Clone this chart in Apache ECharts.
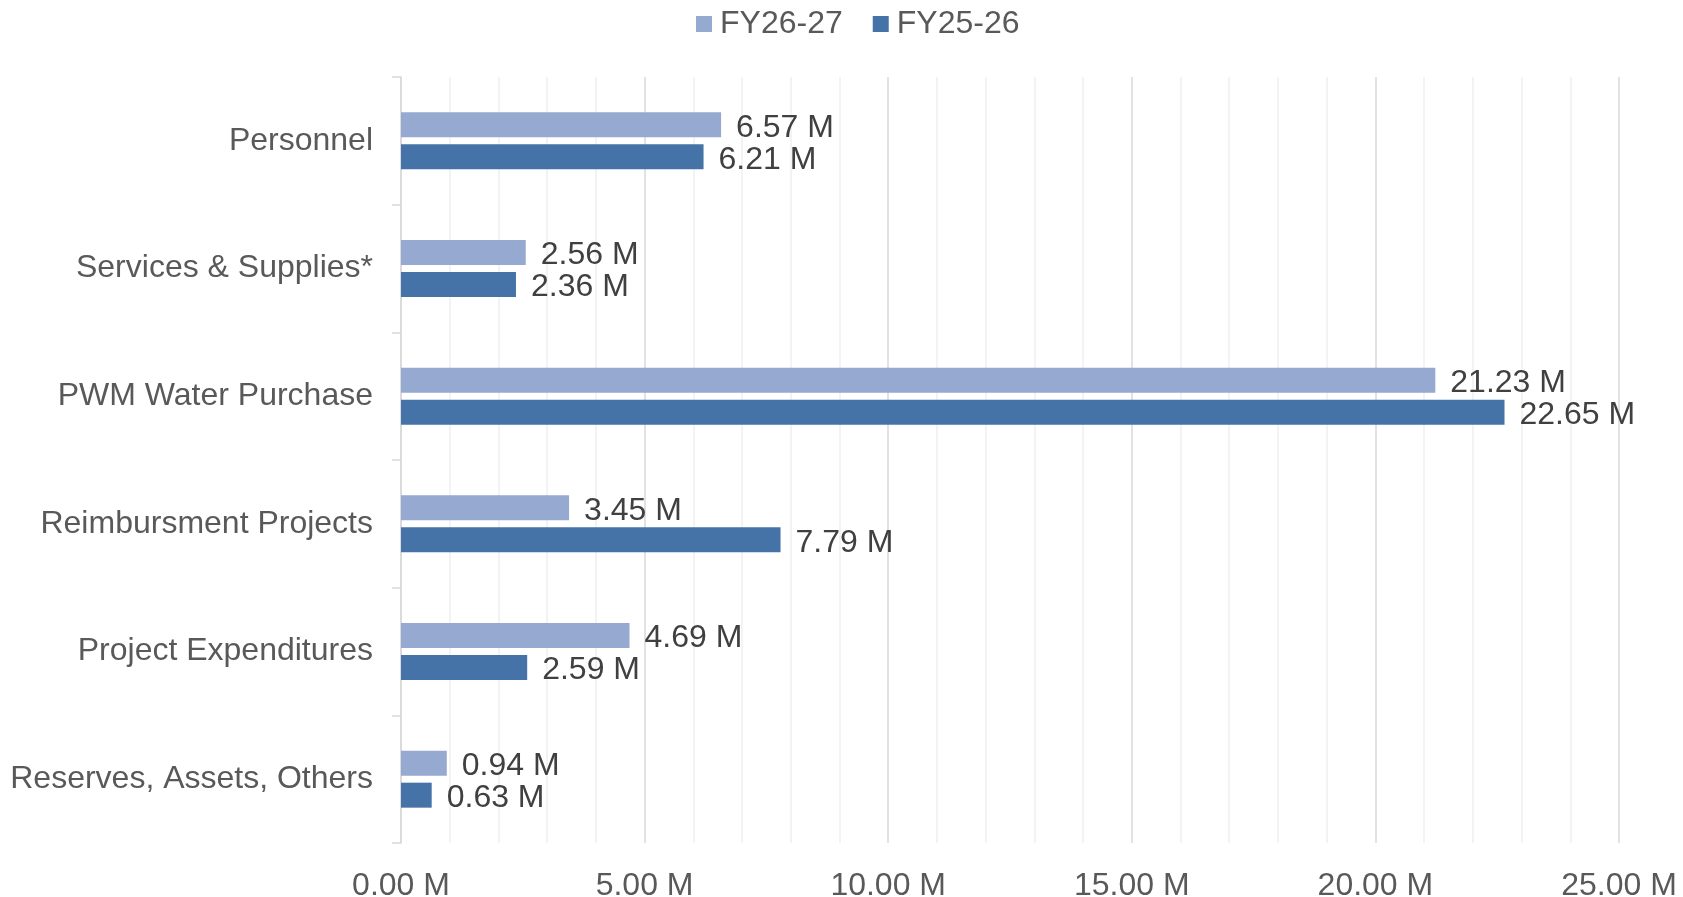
<!DOCTYPE html>
<html>
<head>
<meta charset="utf-8">
<script src="https://cdn.jsdelivr.net/npm/echarts@6/dist/echarts.min.js"></script>
<style>html,body{margin:0;padding:0;background:#fff;}#c{width:1683px;height:897px;}</style>
</head>
<body>
<div id="c"></div>
<script>
const categories = ['Personnel', 'Services & Supplies*', 'PWM Water Purchase', 'Reimbursment Projects', 'Project Expenditures', 'Reserves, Assets, Others'];
const seriesNames = ['FY26-27', 'FY25-26'];
const fy2627 = [6.57, 2.56, 21.23, 3.45, 4.69, 0.94];
const fy2526 = [6.21, 2.36, 22.65, 7.79, 2.59, 0.63];
const axisMin = 0, axisMax = 25, axisInterval = 5;

const FONT = '"Liberation Sans", Arial, sans-serif';
const chart = echarts.init(document.getElementById('c'));
const fmt = v => v.toFixed(2) + ' M';
const labelCfg = {
  show: true, position: 'right', distance: 15, offset: [0, 3],
  formatter: p => fmt(p.value),
  color: '#404040', fontSize: 32, fontFamily: FONT
};
chart.setOption({
  animation: false,
  backgroundColor: '#ffffff',
  legend: {
    data: seriesNames,
    left: 691, top: 3,
    itemWidth: 16, itemHeight: 16, itemGap: 30,
    icon: 'rect',
    textStyle: { color: '#595959', fontSize: 32, fontFamily: FONT, padding: [0, 0, 0, 3] }
  },
  grid: { left: 401, right: 64, top: 77, bottom: 54, containLabel: false, outerBoundsMode: 'none' },
  xAxis: {
    type: 'value', min: axisMin, max: axisMax, interval: axisInterval,
    axisLine: { show: false }, axisTick: { show: false },
    axisLabel: { formatter: v => fmt(v), color: '#595959', fontSize: 32, fontFamily: FONT, margin: 27 },
    splitLine: { show: true, lineStyle: { color: '#d9d9d9', width: 1.5 } },
    minorTick: { show: false, splitNumber: 5 },
    minorSplitLine: { show: true, lineStyle: { color: '#efefef', width: 1.5 } }
  },
  yAxis: {
    type: 'category', data: categories, inverse: true,
    axisLine: { show: true, lineStyle: { color: '#d9d9d9', width: 1.5 } },
    axisTick: { show: true, length: 9, lineStyle: { color: '#d9d9d9', width: 1.5 } },
    axisLabel: { color: '#595959', fontSize: 32, fontFamily: FONT, margin: 28, padding: [0, 0, 8, 0] },
    splitLine: { show: false }
  },
  series: [
    { name: seriesNames[0], type: 'bar', data: fy2627, barWidth: 25, barGap: '28%',
      itemStyle: { color: '#95A9D1' }, label: labelCfg },
    { name: seriesNames[1], type: 'bar', data: fy2526, barWidth: 25, barGap: '28%',
      itemStyle: { color: '#4573A7' }, label: labelCfg }
  ]
});
</script>
</body>
</html>
